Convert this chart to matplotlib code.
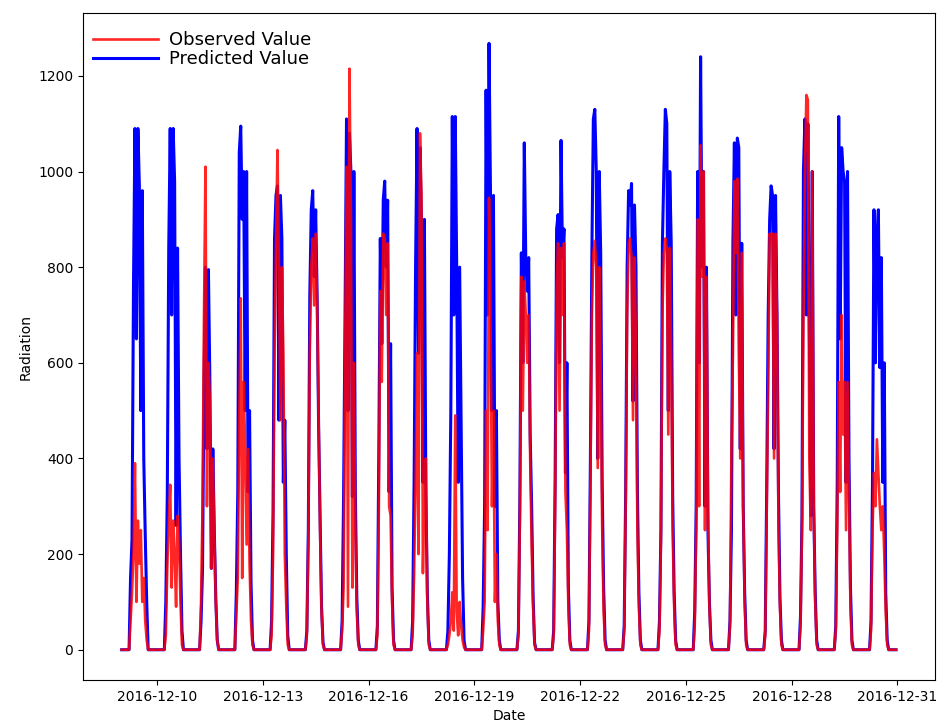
import numpy as np
import pandas as pd
import matplotlib
matplotlib.use("Agg")
import matplotlib.pyplot as plt
import matplotlib.dates as mdates

start_date = "2016-12-09"
day_hours = list(range(6, 19))  # daylight hours 06:00 .. 18:00
tick_days = pd.date_range("2016-12-10", "2016-12-31", freq="3D")

# hourly readings for daylight hours, one row per day (12-09 .. 12-30)
predicted = [
    [150, 230, 760, 1090, 650, 1090, 970, 500, 960, 400, 240, 100, 0],
    [100, 320, 840, 1090, 700, 1090, 980, 260, 840, 400, 200, 40, 0],
    [60, 170, 560, 800, 420, 795, 560, 170, 420, 250, 110, 20, 0],
    [120, 330, 1040, 1095, 900, 1000, 500, 1000, 330, 500, 140, 20, 0],
    [60, 290, 860, 950, 970, 480, 950, 860, 350, 480, 200, 30, 0],
    [40, 250, 740, 920, 960, 780, 920, 740, 470, 280, 90, 15, 0],
    [60, 320, 700, 1110, 500, 1080, 1000, 320, 1000, 330, 110, 20, 0],
    [50, 420, 860, 640, 940, 980, 800, 940, 330, 640, 130, 20, 0],
    [60, 350, 800, 1090, 620, 1050, 900, 350, 900, 330, 120, 20, 0],
    [40, 200, 500, 1115, 700, 1115, 800, 350, 800, 480, 150, 20, 0],
    [90, 300, 1170, 700, 1268, 950, 500, 950, 300, 500, 100, 20, 0],
    [40, 320, 830, 600, 1060, 820, 750, 820, 450, 300, 110, 15, 0],
    [40, 360, 880, 910, 600, 1065, 820, 880, 370, 600, 130, 20, 0],
    [60, 400, 830, 1110, 1130, 1000, 400, 1000, 830, 350, 130, 20, 0],
    [50, 330, 800, 960, 930, 975, 520, 930, 800, 330, 120, 20, 0],
    [60, 250, 850, 1000, 1130, 1100, 500, 1000, 850, 320, 120, 20, 0],
    [80, 300, 1000, 600, 1240, 800, 1000, 300, 800, 250, 100, 20, 0],
    [60, 250, 850, 1060, 700, 1070, 1050, 420, 850, 300, 120, 20, 0],
    [40, 340, 700, 900, 970, 950, 420, 950, 700, 330, 110, 20, 0],
    [70, 280, 1000, 1110, 700, 1100, 700, 280, 1000, 300, 120, 20, 0],
    [50, 350, 1115, 650, 1050, 1000, 980, 350, 1000, 400, 130, 20, 0],
    [60, 350, 920, 600, 860, 920, 590, 820, 350, 600, 120, 20, 0],
]

observed = [
    [60, 120, 200, 390, 100, 270, 180, 250, 100, 150, 60, 20, 0],
    [30, 170, 270, 345, 130, 270, 200, 90, 280, 230, 100, 10, 0],
    [100, 300, 700, 1010, 300, 600, 520, 170, 400, 250, 100, 20, 0],
    [75, 150, 490, 735, 150, 560, 420, 220, 420, 180, 60, 10, 0],
    [30, 200, 620, 850, 1045, 800, 480, 800, 620, 200, 90, 10, 0],
    [30, 230, 620, 800, 860, 720, 870, 720, 480, 250, 80, 10, 0],
    [40, 130, 600, 1010, 90, 1215, 900, 130, 600, 250, 80, 10, 0],
    [30, 300, 750, 560, 870, 860, 700, 850, 300, 280, 100, 10, 0],
    [30, 160, 350, 620, 200, 1080, 950, 160, 350, 400, 100, 10, 0],
    [10, 30, 60, 120, 40, 490, 80, 30, 100, 50, 20, 5, 0],
    [40, 100, 500, 250, 945, 700, 300, 500, 100, 200, 60, 10, 0],
    [30, 280, 780, 500, 770, 700, 600, 700, 400, 220, 90, 10, 0],
    [30, 300, 750, 850, 500, 840, 700, 850, 330, 250, 90, 10, 0],
    [40, 350, 700, 830, 855, 800, 380, 800, 600, 260, 80, 10, 0],
    [40, 300, 700, 850, 860, 820, 480, 820, 650, 250, 90, 10, 0],
    [40, 230, 700, 830, 860, 840, 450, 840, 600, 250, 90, 10, 0],
    [50, 250, 900, 300, 1055, 780, 1000, 250, 780, 300, 90, 10, 0],
    [50, 420, 620, 980, 830, 985, 620, 400, 830, 300, 100, 10, 0],
    [30, 300, 550, 870, 850, 870, 400, 870, 700, 260, 90, 10, 0],
    [50, 250, 700, 1000, 1160, 1150, 400, 250, 1000, 300, 100, 10, 0],
    [40, 250, 560, 330, 700, 450, 560, 250, 560, 330, 90, 10, 0],
    [40, 250, 370, 300, 440, 370, 300, 250, 300, 200, 80, 10, 0],
]


def to_hourly(rows):
    vals = []
    for row in rows:
        day = [0] * 24
        for h, v in zip(day_hours, row):
            day[h] = v
        vals.extend(day)
    return vals


times = pd.date_range(start_date, periods=len(predicted) * 24, freq="h")
pred = pd.Series(to_hourly(predicted), index=times)
obs = pd.Series(to_hourly(observed), index=times)

fig = plt.figure(figsize=(9.38, 7.25), dpi=100)
ax = fig.add_axes([0.0885, 0.062, 0.908, 0.920])

l_pred, = ax.plot(pred.index, pred.values, color="blue", lw=2.2, label="Predicted Value")
l_obs, = ax.plot(obs.index, obs.values, color="red", lw=1.9, alpha=0.85, label="Observed Value")

ax.set_xticks(mdates.date2num(tick_days.to_pydatetime()))
ax.xaxis.set_major_formatter(mdates.DateFormatter("%Y-%m-%d"))
ax.set_yticks([0, 200, 400, 600, 800, 1000, 1200])

ax.set_xlabel("Date")
ax.set_ylabel("Radiation")
ax.legend(handles=[l_obs, l_pred], loc="upper left", bbox_to_anchor=(-0.009, 1.0),
          frameon=False, fontsize=13, borderaxespad=0.6, handlelength=3.6,
          handletextpad=0.6, labelspacing=0.05)

fig.savefig("out.png", dpi=100)
